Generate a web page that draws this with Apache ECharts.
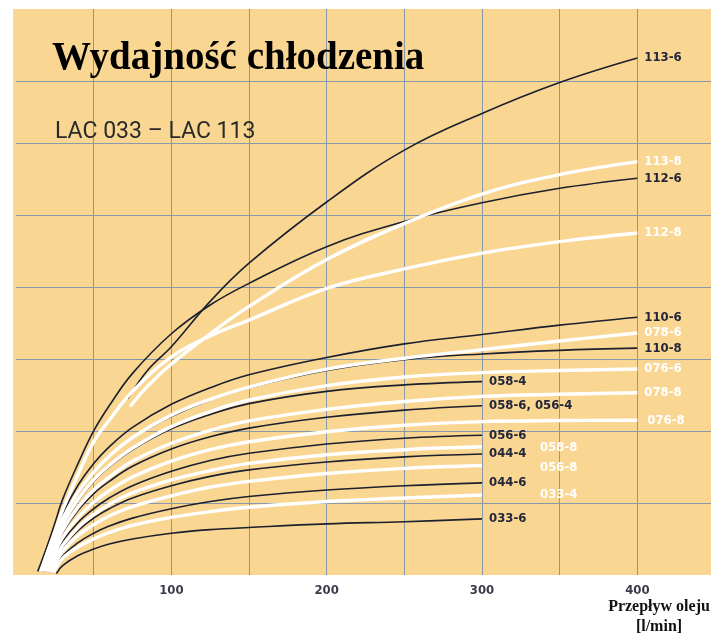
<!DOCTYPE html>
<html><head><meta charset="utf-8">
<script src="https://cdn.jsdelivr.net/npm/echarts@6/dist/echarts.min.js"></script>
<style>html,body{margin:0;padding:0;background:#fff}#c{width:711px;height:637px}</style>
</head><body><div id="c"></div>
<script>
// ---- data (x = oil flow l/min, y = capacity in grid units) ----
const xTickLabels = [100, 200, 300, 400];
const yGridValues = [10, 20, 30, 40, 50, 60, 68.6];

const c113_6 = [[72,24.5],[85,28.5],[100,31.7],[125,38.0],[150,43.3],[200,51.8],[250,59.0],[300,64.1],[350,68.4],[400,71.8]];
const c113_8 = [[73.5,23.4],[85,26.3],[100,29.3],[125,33.5],[150,37.3],[200,43.8],[250,48.8],[300,52.9],[350,55.6],[400,57.4]];
const c112_6 = [[14,0.5],[20,4],[25,7.2],[30,10.5],[40,15.5],[50,20],[60,23.5],[75,28],[100,33.5],[125,37.5],[150,40.5],[200,45.6],[250,49.1],[300,51.7],[350,53.7],[400,55.1]];
const c112_8 = [[16,0.5],[20,3],[25,6],[30,9],[40,14],[50,18.5],[60,21.5],[75,25.5],[100,30.3],[125,33.2],[150,35.4],[200,39.8],[250,42.5],[300,44.7],[350,46.3],[400,47.5]];
const c110_6 = [[17,0.5],[20,2.5],[25,5.5],[30,8.5],[40,12.5],[50,15.5],[60,17.8],[75,20.5],[100,23.7],[125,26.0],[150,27.8],[200,30.2],[250,32.1],[300,33.4],[350,34.7],[400,35.8]];
const c078_6 = [[18,0.5],[20,2],[25,5],[30,7.8],[40,11.5],[50,14.3],[60,16.5],[75,19.1],[100,22.2],[125,24.4],[150,26.1],[200,28.6],[250,30.1],[300,31.3],[350,32.5],[400,33.6]];
const c110_8 = [[18.5,0.5],[20,1.8],[25,4.8],[30,7.6],[40,11.3],[50,14.2],[60,16.4],[75,19.0],[100,22.0],[125,24.3],[150,26.0],[200,28.4],[250,29.9],[300,30.7],[350,31.2],[400,31.5]];
const c076_6 = [[19,0.5],[20,1.2],[25,4.3],[30,7],[40,10.5],[50,13.2],[60,15.2],[75,17.6],[100,20.6],[125,22.7],[150,24.3],[200,26.3],[250,27.5],[300,28.1],[350,28.4],[400,28.6]];
const c058_4 = [[19,0.5],[20,1.2],[25,4.2],[30,6.8],[40,10.3],[50,13],[60,15],[75,17.4],[100,20.3],[125,22.3],[150,23.8],[200,25.5],[250,26.4],[300,26.85]];
const c078_8 = [[20,0.5],[25,3.8],[30,6.2],[40,9.4],[50,11.8],[60,13.6],[75,15.8],[100,18.3],[125,20.1],[150,21.4],[200,23.0],[250,24.1],[300,24.8],[350,25.1],[400,25.3]];
const c058_6 = [[20,0.5],[25,3.6],[30,5.9],[40,9.0],[50,11.3],[60,13.0],[75,15.1],[100,17.5],[125,19.2],[150,20.4],[200,21.9],[250,22.9],[300,23.5]];
const c076_8 = [[21,0.5],[25,3.0],[30,5.2],[40,8.0],[50,10.1],[60,11.7],[75,13.6],[100,15.8],[125,17.4],[150,18.5],[200,19.9],[250,20.8],[300,21.3],[350,21.45],[400,21.5]];
const c056_6 = [[21,0.4],[25,2.7],[30,4.7],[40,7.3],[50,9.2],[60,10.7],[75,12.4],[100,14.4],[125,15.9],[150,16.9],[200,18.2],[250,19.0],[300,19.4]];
const c058_8 = [[22,0.4],[25,2.2],[30,4.1],[40,6.6],[50,8.4],[60,9.8],[75,11.4],[100,13.2],[125,14.5],[150,15.5],[200,16.7],[250,17.4],[300,17.8]];
const c044_4 = [[22,0.4],[25,2.1],[30,3.9],[40,6.2],[50,7.9],[60,9.2],[75,10.7],[100,12.4],[125,13.7],[150,14.6],[200,15.7],[250,16.4],[300,16.8]];
const c056_8 = [[23,0.4],[25,1.5],[30,3.3],[40,5.5],[50,7.0],[60,8.2],[75,9.5],[100,11.0],[125,12.2],[150,13.0],[200,14.1],[250,14.8],[300,15.2]];
const c044_6 = [[24,0.3],[30,2.6],[40,4.5],[50,5.8],[60,6.8],[75,7.9],[100,9.2],[125,10.2],[150,10.9],[200,11.8],[250,12.4],[300,12.8]];
const c033_4 = [[24,0.3],[30,2.3],[40,3.9],[50,5.0],[60,5.9],[75,6.9],[100,8.0],[125,8.8],[150,9.4],[200,10.2],[250,10.7],[300,11.1]];
const c033_6 = [[26,0.2],[30,1.3],[40,2.7],[50,3.6],[60,4.3],[75,5.0],[100,5.8],[125,6.3],[150,6.6],[200,7.1],[250,7.4],[300,7.8]];

const curveNames = ['113-6','113-8','112-6','112-8','110-6','078-6','110-8','076-6','058-4','078-8','058-6, 056-4','076-8','056-6','058-8','044-4','056-8','044-6','033-4','033-6'];
const curveData  = [c113_6,c113_8,c112_6,c112_8,c110_6,c078_6,c110_8,c076_6,c058_4,c078_8,c058_6,c076_8,c056_6,c058_8,c044_4,c056_8,c044_6,c033_4,c033_6];
const curveKind  = ['d','w','d','w','d','w','d','w','d','w','d','w','d','w','d','w','d','w','d'];

// ---- styles ----
const DARK = '#1c1f2e', WHITE = '#ffffff', GRIDC = '#8899ac', BG = '#f9d792';
const labelFont = '"DejaVu Sans Condensed", "DejaVu Sans", sans-serif';
const labelOffsets = { '058-8': [51, 1], '056-8': [51, 2], '033-4': [51, 0], '076-8': [3, 0] };

const series = curveNames.map((name, i) => {
  const white = curveKind[i] === 'w';
  return {
    name, type: 'line', data: curveData[i], showSymbol: false, symbol: 'none',
    smooth: 0.4, z: white ? 4 : 3,
    lineStyle: { color: white ? WHITE : DARK, width: white ? 3.4 : 1.6 },
    emphasis: { disabled: true },
    endLabel: {
      show: true, formatter: name, distance: 7,
      offset: labelOffsets[name] || [0, 0],
      color: white ? WHITE : '#23263a', fontFamily: labelFont,
      fontWeight: 'bold', fontSize: 13
    }
  };
});

const chart = echarts.init(document.getElementById('c'), null, { renderer: 'canvas' });
chart.setOption({
  animation: false,
  backgroundColor: '#ffffff',
  graphic: [
    { type: 'rect', z: -10, silent: true, shape: { x: 13, y: 9, width: 698, height: 566 }, style: { fill: BG } },
    { type: 'text', x: 659, y: 607, style: { text: 'Przepływ oleju', align: 'center', verticalAlign: 'middle', fontFamily: '"Liberation Serif", serif', fontWeight: 'bold', fontSize: 16, fill: '#111' } },
    { type: 'text', x: 659, y: 627, style: { text: '[l/min]', align: 'center', verticalAlign: 'middle', fontFamily: '"Liberation Serif", serif', fontWeight: 'bold', fontSize: 16, fill: '#111' } }
  ],
  title: [
    { text: 'Wydajność chłodzenia', left: 47, top: 34,
      textStyle: { fontFamily: '"Liberation Serif", serif', fontWeight: 'bold', fontSize: 39, color: '#000' } },
    { text: 'LAC 033 – LAC 113', left: 50, top: 116,
      textStyle: { fontFamily: 'Roboto, sans-serif', fontWeight: 'normal', fontSize: 23, color: '#2a2a2a' } }
  ],
  grid: { left: 16, width: 699, top: 9, bottom: 62, containLabel: false, outerBoundsMode: 'none' },
  xAxis: {
    type: 'value', min: 0, max: 450, interval: 50,
    axisLine: { show: false }, axisTick: { show: false },
    splitLine: { show: true, showMinLine: false, showMaxLine: false, lineStyle: { color: GRIDC, width: 1 } },
    axisLabel: {
      formatter: v => (xTickLabels.indexOf(v) >= 0 ? String(v) : ''),
      fontFamily: labelFont, fontWeight: 'bold', fontSize: 13, color: '#3a3b4a', margin: 9
    }
  },
  yAxis: {
    type: 'value', min: 0, max: 78.6,
    axisLine: { show: false },
    axisTick: { show: false, customValues: yGridValues },
    axisLabel: { show: false, customValues: yGridValues },
    splitLine: { show: true, showMinLine: true, showMaxLine: true, lineStyle: { color: GRIDC, width: 1 } }
  },
  series
});
</script></body></html>
